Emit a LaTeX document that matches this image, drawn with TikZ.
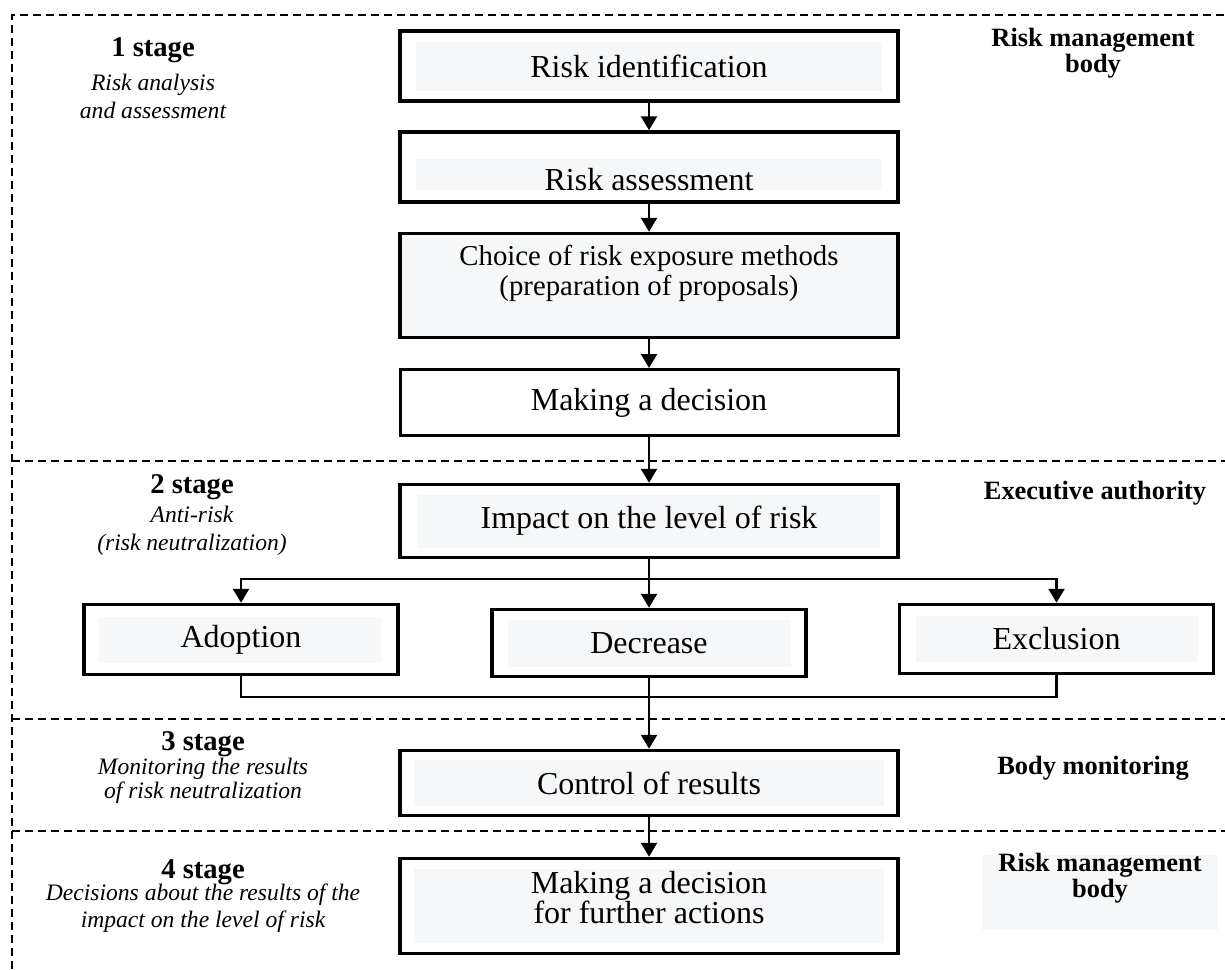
\documentclass[tikz,border=0pt]{standalone}
\usepackage{fontspec}
\setmainfont{Liberation Serif}
\usetikzlibrary{arrows.meta}
\definecolor{paleback}{RGB}{246,247,249}

\begin{document}
\begin{tikzpicture}[x=0.5pt, y=-0.5pt,
  boxtext/.style={align=center, font=\fontsize{16}{15}\selectfont},
  box/.style={boxtext, draw, line width=1.75pt, minimum width=249pt, minimum height=35pt, inner sep=0pt},
  pad/.style={fill=paleback, inner sep=0pt},
  link/.style={line width=1.25pt, -{Triangle[width=8pt,length=7pt]}},
  wire/.style={line width=1.25pt},
  lane/.style={line width=0.65pt, dash pattern=on 4pt off 2.5pt},
  stagehead/.style={inner sep=0pt, font=\bfseries\fontsize{14.3}{14}\selectfont},
  stagetext/.style={inner sep=0pt, align=center, font=\itshape\fontsize{11.8}{14}\selectfont},
  actor/.style={align=center, font=\bfseries\fontsize{13.2}{11.5}\selectfont}]

\useasboundingbox (0,0) rectangle (1225,969);

% stage frame
\draw[lane] (12,969) -- (12,15) -- (1225,15);
\foreach \y in {461,719,831}
  \draw[lane] (12,\y) -- (1225,\y);

% grey pads behind the texts
\node[pad, minimum width=233pt, minimum height=24.5pt] (ident-pad) at (649,66.5) {};
\node[pad, minimum width=233pt, minimum height=15.5pt] (assess-pad) at (649,174.5) {};
\node[pad, minimum width=231.5pt, minimum height=26.5pt] (impact-pad) at (648.5,521.5) {};
\node[pad, minimum width=141pt, minimum height=23pt] (adopt-pad) at (240,640) {};
\node[pad, minimum width=141.5pt, minimum height=23.5pt] (decr-pad) at (649.5,643.5) {};
\node[pad, minimum width=141pt, minimum height=23pt] (excl-pad) at (1057,639) {};
\node[pad, minimum width=235pt, minimum height=23pt] (ctrl-pad) at (649,783) {};
\node[pad, minimum width=235pt, minimum height=37pt] (final-pad) at (649,906) {};
\node[pad, minimum width=118pt, minimum height=37.5pt] (body-pad) at (1100,892.5) {};

% boxes
\node[box] (ident) at (649,66) {Risk identification};
\node[box] (assess) at (649,167) {};
\node[boxtext] (assess-t) at (649,180) {Risk assessment};
\node[box, fill=paleback, minimum height=52pt] (choice) at (649,285.5) {};
\node[boxtext, font=\fontsize{14.4}{15}\selectfont] (choice-t) at (649,273)
  {Choice of risk exposure methods\\(preparation of proposals)};
\node[box, line width=1.5pt, minimum height=33pt] (decide) at (649,402.5) {Making a decision};
\node[box, minimum height=36.5pt] (impact) at (649,521) {Impact on the level of risk};
\node[box, minimum width=157pt] (adopt) at (241,639.5) {Adoption};
\node[box, minimum width=157pt, minimum height=33.5pt] (decr) at (649,643) {Decrease};
\node[box, minimum width=157pt, minimum height=34.5pt] (excl) at (1056.5,639) {Exclusion};
\node[box, minimum height=32.5pt] (ctrl) at (649,783) {Control of results};
\node[box, minimum height=47.5pt] (final) at (649,906) {};
\node[boxtext] (final-t) at (649,898) {Making a decision\\for further actions};

% connectors
\draw[link] (ident) -- (assess);
\draw[link] (assess) -- (choice);
\draw[link] (choice) -- (decide);
\draw[link] (decide) -- (impact);
\coordinate (fork) at (649,579);
\draw[wire] (impact) -- (fork);
\draw[link] (fork) -- (decr);
\draw[link] (fork) -| (adopt);
\draw[link] (fork) -| (excl);
\coordinate (merge) at (649,697);
\draw[wire] (adopt) |- (merge) -| (excl);
\draw[link] (decr) -- (ctrl);
\draw[link] (ctrl) -- (final);

% stages
\node[stagehead] (stage1) at (153,50) {1 stage};
\node[stagetext] (stage1-d) at (153,96) {Risk analysis\\and assessment};
\node[stagehead] (stage2) at (192,487) {2 stage};
\node[stagetext] (stage2-d) at (192,531) {Anti-risk\\(risk neutralization)};
\node[stagehead] (stage3) at (203,744) {3 stage};
\node[stagetext, font=\itshape\fontsize{11.8}{10.5}\selectfont] (stage3-d) at (203,781)
  {Monitoring the results\\of risk neutralization};
\node[stagehead] (stage4) at (203,872) {4 stage};
\node[stagetext, font=\itshape\fontsize{11.8}{13.5}\selectfont] (stage4-d) at (203,908.5)
  {Decisions about the results of the\\impact on the level of risk};

% who acts
\node[actor] (actor1) at (1093,53.5) {Risk management\\body};
\node[actor] (actor2) at (1095,493) {Executive authority};
\node[actor] (actor3) at (1093,768) {Body monitoring};
\node[actor] (actor4) at (1100,878.5) {Risk management\\body};

\end{tikzpicture}
\end{document}
